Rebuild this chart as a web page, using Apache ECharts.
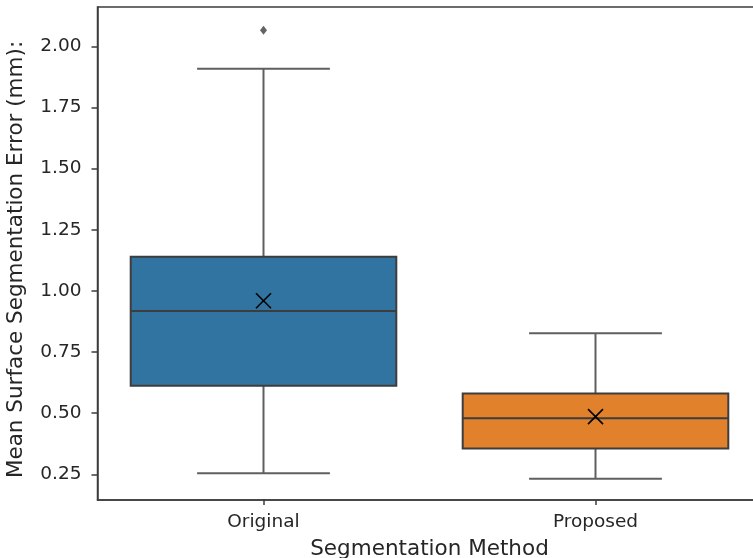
<!DOCTYPE html>
<html>
<head>
<meta charset="utf-8">
<script src="https://cdn.jsdelivr.net/npm/echarts@6/dist/echarts.min.js"></script>
<style>html,body{margin:0;padding:0;background:#fff;}#c{width:753px;height:558px;}</style>
</head>
<body>
<div id="c"></div>
<script>
var categories = ['Original', 'Proposed'];
var whiskerLow = [0.254, 0.232];
var q1 = [0.612, 0.356];
var median = [0.918, 0.479];
var q3 = [1.140, 0.581];
var whiskerHigh = [1.908, 0.827];
var means = [0.960, 0.486];
var outliers = [[0, 2.066]];
var yTicks = [0.25, 0.50, 0.75, 1.00, 1.25, 1.50, 1.75, 2.00];
var boxColors = ['#3274a1', '#e1812c'];

var boxData = categories.map(function (c, i) {
  return [i, whiskerLow[i], q1[i], median[i], q3[i], whiskerHigh[i]];
});
var meanData = categories.map(function (c, i) { return [i, means[i]]; });

var FONT = 'DejaVu Sans';
var EDGE = '#3d3d3d';

var chart = echarts.init(document.getElementById('c'), null, {renderer: 'canvas'});
chart.setOption({
  animation: false,
  backgroundColor: '#fff',
  grid: {left: 97.5, right: -8.5, top: 7, bottom: 58, show: true, borderColor: EDGE, borderWidth: 1.5,
    backgroundColor: 'transparent', containLabel: false, outerBoundsMode: 'none'},
  xAxis: {
    type: 'category',
    data: categories,
    boundaryGap: true,
    axisLine: {show: true, lineStyle: {color: EDGE, width: 1.5}},
    axisTick: {show: true, alignWithLabel: true, length: 5, lineStyle: {color: EDGE, width: 1.5}},
    axisLabel: {color: '#262626', fontFamily: FONT, fontSize: 18.5, margin: 13},
    splitLine: {show: false},
    name: 'Segmentation Method',
    nameLocation: 'middle',
    nameGap: 38,
    nameTextStyle: {color: '#262626', fontFamily: FONT, fontSize: 21.5}
  },
  yAxis: {
    type: 'value',
    min: 0.145,
    max: 2.161,
    axisLine: {show: true, lineStyle: {color: EDGE, width: 1.5}},
    axisTick: {show: true, length: 6, lineStyle: {color: EDGE, width: 1.5}, customValues: yTicks},
    axisLabel: {color: '#262626', fontFamily: FONT, fontSize: 18.5, margin: 16, customValues: yTicks,
      formatter: function (v) { return v.toFixed(2); }},
    splitLine: {show: false},
    name: 'Mean Surface Segmentation Error (mm):',
    nameLocation: 'middle',
    nameGap: 70,
    nameRotate: 90,
    nameTextStyle: {color: '#262626', fontFamily: FONT, fontSize: 21.5, padding: [0, 12, 0, 0]}
  },
  series: [
    {
      type: 'custom',
      data: boxData,
      clip: false,
      renderItem: function (params, api) {
        var i = api.value(0);
        var band = api.size([1, 0])[0];
        var bw = band * 0.8, cw = band * 0.4;
        var pLow = api.coord([i, api.value(1)]);
        var pQ1 = api.coord([i, api.value(2)]);
        var pMed = api.coord([i, api.value(3)]);
        var pQ3 = api.coord([i, api.value(4)]);
        var pHigh = api.coord([i, api.value(5)]);
        var cx = pLow[0];
        var ws = {stroke: '#5f5f5f', lineWidth: 2};
        return {
          type: 'group',
          children: [
            {type: 'line', shape: {x1: cx, y1: pQ1[1], x2: cx, y2: pLow[1]}, style: ws},
            {type: 'line', shape: {x1: cx, y1: pQ3[1], x2: cx, y2: pHigh[1]}, style: ws},
            {type: 'line', shape: {x1: cx - cw / 2, y1: pLow[1], x2: cx + cw / 2, y2: pLow[1]}, style: ws},
            {type: 'line', shape: {x1: cx - cw / 2, y1: pHigh[1], x2: cx + cw / 2, y2: pHigh[1]}, style: ws},
            {type: 'rect', shape: {x: cx - bw / 2, y: pQ3[1], width: bw, height: pQ1[1] - pQ3[1]},
              style: {fill: boxColors[i], stroke: EDGE, lineWidth: 2}},
            {type: 'line', shape: {x1: cx - bw / 2, y1: pMed[1], x2: cx + bw / 2, y2: pMed[1]},
              style: {stroke: EDGE, lineWidth: 2}}
          ]
        };
      },
      z: 2
    },
    {
      type: 'custom',
      data: meanData,
      clip: false,
      renderItem: function (params, api) {
        var p = api.coord([api.value(0), api.value(1)]);
        var h = 7.5;
        var st = {stroke: '#000', lineWidth: 1.6};
        return {
          type: 'group',
          children: [
            {type: 'line', shape: {x1: p[0] - h, y1: p[1] - h, x2: p[0] + h, y2: p[1] + h}, style: st},
            {type: 'line', shape: {x1: p[0] - h, y1: p[1] + h, x2: p[0] + h, y2: p[1] - h}, style: st}
          ]
        };
      },
      z: 4
    },
    {
      type: 'scatter',
      data: outliers,
      symbol: 'diamond',
      symbolSize: [7, 9],
      itemStyle: {color: EDGE},
      z: 4
    }
  ]
});
</script>
</body>
</html>
